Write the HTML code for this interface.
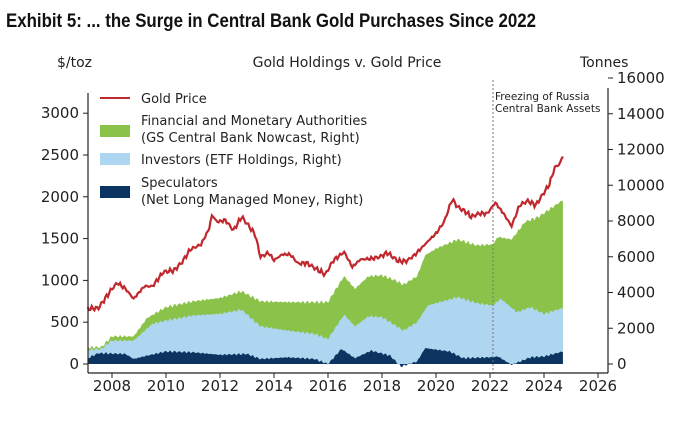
<!DOCTYPE html>
<html><head><meta charset="utf-8"><style>
body{margin:0;background:#fff;width:700px;height:418px;overflow:hidden}
svg text{font-family:"DejaVu Sans","Liberation Sans",sans-serif;fill:#222}
</style></head><body>
<svg id="s" width="700" height="418" xmlns="http://www.w3.org/2000/svg">
<text x="6" y="27" style="font-family:'Liberation Sans',sans-serif;font-weight:bold;font-size:19px;fill:#111" textLength="530" lengthAdjust="spacingAndGlyphs">Exhibit 5: ... the Surge in Central Bank Gold Purchases Since 2022</text>
<text x="57" y="67" font-size="14">$/toz</text>
<text x="347" y="67" font-size="14" text-anchor="middle">Gold Holdings v. Gold Price</text>
<text x="580" y="67" font-size="14">Tonnes</text>
<g id="areas"></g>
<line x1="493" y1="80" x2="493" y2="373" stroke="#777" stroke-width="1" stroke-dasharray="2,2"/>
<text x="495" y="100" font-size="10.5">Freezing of Russia</text>
<text x="495" y="112" font-size="10.5">Central Bank Assets</text>
<path id="gold" fill="none" stroke="#c0282d" stroke-width="2.2"/>
<g stroke="#222" stroke-width="1.2" fill="none">
<line x1="88" y1="93" x2="88" y2="373"/><line x1="88" y1="373" x2="608" y2="373"/><line x1="608" y1="88" x2="608" y2="373"/>
</g>
<g id="ticks" font-size="15"></g>
<line x1="100" y1="98" x2="130" y2="98" stroke="#c0282d" stroke-width="2"/>
<text x="141" y="103" font-size="13">Gold Price</text>
<rect x="100" y="125" width="30" height="12" fill="#8bc34a"/>
<text x="141" y="125" font-size="13">Financial and Monetary Authorities</text>
<text x="141" y="142" font-size="13">(GS Central Bank Nowcast, Right)</text>
<rect x="100" y="153" width="30" height="12" fill="#aed6f1"/>
<text x="141" y="164" font-size="13">Investors (ETF Holdings, Right)</text>
<rect x="100" y="186" width="30" height="12" fill="#0b3560"/>
<text x="141" y="187" font-size="13">Speculators</text>
<text x="141" y="204" font-size="13">(Net Long Managed Money, Right)</text>
</svg>
<script>
const X=t=>112+(t-2008)*27, Y=p=>364-p*0.0836;
function interp(d,t){for(let i=0;i<d.length-1;i++){if(t>=d[i][0]&&t<=d[i+1][0]){const f=(t-d[i][0])/(d[i+1][0]-d[i][0]);return d[i][1]+f*(d[i+1][1]-d[i][1]);}}return d[d.length-1][1];}
const gold=[[2007.1,660],[2007.5,670],[2008,900],[2008.2,970],[2008.5,900],[2008.8,780],[2009.2,930],[2009.5,930],[2009.9,1100],[2010.3,1120],[2010.6,1220],[2010.9,1370],[2011.3,1430],[2011.6,1620],[2011.7,1780],[2011.9,1700],[2012.2,1720],[2012.5,1600],[2012.8,1760],[2013,1680],[2013.3,1550],[2013.5,1280],[2013.8,1330],[2014,1240],[2014.3,1310],[2014.6,1310],[2014.9,1200],[2015.2,1210],[2015.6,1130],[2015.9,1070],[2016.2,1240],[2016.6,1340],[2016.9,1160],[2017.2,1250],[2017.6,1260],[2017.9,1280],[2018.2,1330],[2018.6,1230],[2018.9,1230],[2019.2,1300],[2019.5,1400],[2019.8,1500],[2020,1560],[2020.3,1700],[2020.6,1970],[2020.8,1880],[2021.1,1820],[2021.3,1760],[2021.6,1800],[2021.9,1800],[2022.2,1930],[2022.5,1800],[2022.8,1650],[2023.1,1900],[2023.4,1950],[2023.7,1900],[2023.9,2000],[2024.2,2150],[2024.4,2350],[2024.6,2400],[2024.7,2500]];
const green=[[2007.1,200],[2007.6,200],[2008,330],[2008.8,330],[2009.3,550],[2010,680],[2011,750],[2012,790],[2012.8,870],[2013.5,750],[2014.5,740],[2015.5,740],[2016,740],[2016.3,900],[2016.6,1050],[2017,900],[2017.5,1050],[2018,1060],[2018.5,1000],[2018.8,950],[2019.3,1050],[2019.6,1300],[2020,1380],[2020.8,1490],[2021.5,1420],[2022.1,1430],[2022.3,1520],[2022.8,1490],[2023.3,1700],[2023.8,1760],[2024.2,1850],[2024.7,1960]];
const etf=[[2007.1,170],[2007.6,180],[2008,280],[2008.8,280],[2009.5,480],[2010,520],[2011,580],[2012,600],[2012.8,650],[2013.5,450],[2014.5,400],[2015.5,360],[2016,300],[2016.6,590],[2017,450],[2017.5,570],[2018,560],[2018.8,400],[2019.3,500],[2019.7,700],[2020.8,800],[2021.5,730],[2022.1,700],[2022.4,780],[2023,620],[2023.5,680],[2024,600],[2024.7,670]];
const spec=[[2007.1,70],[2007.5,130],[2008.5,120],[2008.8,60],[2009.3,100],[2010,150],[2011,140],[2012,110],[2013,120],[2013.5,60],[2014.5,80],[2015.5,60],[2016,0],[2016.5,180],[2017,70],[2017.6,160],[2018.3,100],[2018.7,-30],[2019.3,30],[2019.6,190],[2020.5,150],[2021,70],[2022,80],[2022.3,90],[2022.8,-10],[2023.5,80],[2024,90],[2024.7,150]];
function wig(d,amp){const o=[];for(let t=2007.1;t<=2024.701;t+=0.05){o.push([t,interp(d,t)+amp*(Math.sin(t*37)+0.6*Math.sin(t*91)+0.4*Math.sin(t*173))]);}return o;}
function area(d,col){const p=d.map(q=>X(q[0]).toFixed(1)+','+Y(q[1]).toFixed(1));return `<path fill="${col}" d="M${X(2007.1)},364L${p.join('L')}L${X(2024.7)},364Z"/>`;}
document.getElementById('areas').innerHTML=area(wig(green,12),'#8bc34a')+area(wig(etf,10),'#aed6f1')+area(wig(spec,8),'#0b3560');
const g=wig(gold,16);document.getElementById('gold').setAttribute('d','M'+g.map(q=>X(q[0]).toFixed(1)+','+Y(q[1]).toFixed(1)).join('L'));
let s='';
for(let v=0;v<=3000;v+=500){const y=Y(v);s+=`<line x1="83" y1="${y}" x2="88" y2="${y}" stroke="#222"/><text x="79" y="${y+5}" text-anchor="end">${v}</text>`;}
for(let v=0;v<=16000;v+=2000){const y=364-v*0.017875;s+=`<line x1="608" y1="${y}" x2="613" y2="${y}" stroke="#222"/><text x="617" y="${y+5}">${v}</text>`;}
for(let yr=2008;yr<=2026;yr+=2){const x=X(yr);s+=`<line x1="${x}" y1="373" x2="${x}" y2="378" stroke="#222"/><text x="${x}" y="391" text-anchor="middle">${yr}</text>`;}
document.getElementById('ticks').innerHTML=s;
</script>
</body></html>
